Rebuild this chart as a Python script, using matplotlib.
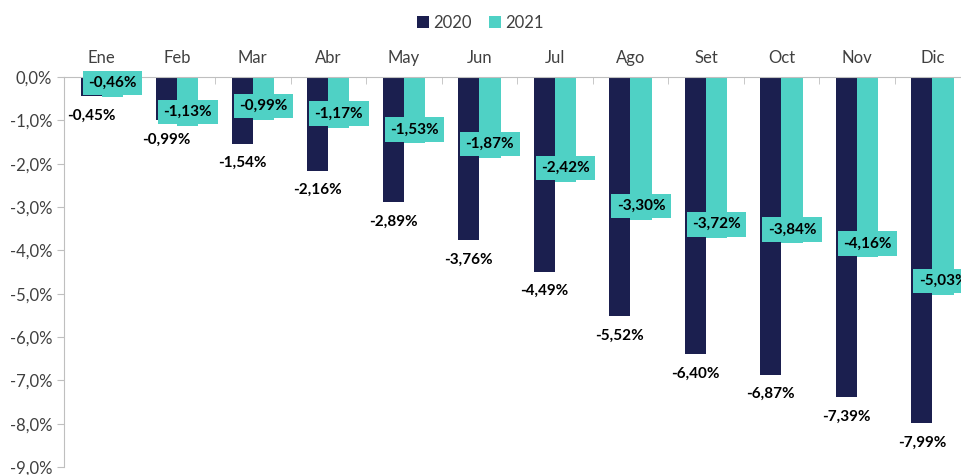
import numpy as np
import matplotlib
matplotlib.use("Agg")
import matplotlib.pyplot as plt
from matplotlib.ticker import FuncFormatter, MultipleLocator

plt.rcParams['font.family'] = ['Lato', 'DejaVu Sans']

# data
months = ["Ene", "Feb", "Mar", "Abr", "May", "Jun", "Jul", "Ago", "Set", "Oct", "Nov", "Dic"]
v2020 = [-0.45, -0.99, -1.54, -2.16, -2.89, -3.76, -4.49, -5.52, -6.40, -6.87, -7.39, -7.99]
v2021 = [-0.46, -1.13, -0.99, -1.17, -1.53, -1.87, -2.42, -3.30, -3.72, -3.84, -4.16, -5.03]

navy = "#1b1f4f"
teal = "#4fd1c5"
grey_txt = "#404040"
axis_col = "#bfbfbf"

def pct(v):
    return f"{v:.2f}%".replace(".", ",")

fig = plt.figure(figsize=(9.61, 4.75), dpi=100)
ax = fig.add_axes([0.0666, 0.0168, 0.943, 0.8212])

x = np.arange(len(months))
w = 0.28
b1 = ax.bar(x - w/2, v2020, w, color=navy, label="2020", zorder=2)
b2 = ax.bar(x + w/2, v2021, w, color=teal, label="2021", zorder=2)

# 2020 labels sit just under the bar end
for xi, v in zip(x, v2020):
    ax.annotate(pct(v), (xi - w/2, v), xytext=(0, -14), textcoords="offset points",
                ha="center", va="center", fontsize=11, fontweight="bold", color="black", zorder=4)

# 2021 labels inside the bar end, on a teal box
for xi, v in zip(x, v2021):
    ax.annotate(pct(v), (xi + w/2, v), xytext=(0, 10), textcoords="offset points",
                ha="center", va="center", fontsize=11, fontweight="bold", color="black", zorder=5,
                bbox=dict(boxstyle="square,pad=0.35", fc=teal, ec="none"))

ax.set_xlim(-0.5, len(months) - 0.5)
ax.set_ylim(-9, 0)

# category axis on top
ax.xaxis.tick_top()
ax.set_xticks(x)
ax.set_xticklabels(months, fontsize=12, color=grey_txt)
ax.set_xticks(np.arange(-0.5, len(months)), minor=True)
ax.tick_params(axis="x", which="major", length=0, pad=8)
ax.tick_params(axis="x", which="minor", direction="in", length=5, color=axis_col, top=True)

ax.yaxis.set_major_locator(MultipleLocator(1))
ax.yaxis.set_major_formatter(FuncFormatter(lambda v, p: f"{v:.1f}%".replace(".", ",")))
ax.tick_params(axis="y", labelsize=12, labelcolor=grey_txt, color=axis_col, length=5)

for s in ["right", "bottom"]:
    ax.spines[s].set_visible(False)
ax.spines["left"].set_color(axis_col)
ax.spines["top"].set_color(axis_col)

fig.legend(handles=[b1, b2], loc="upper center", bbox_to_anchor=(0.5, 1.0), ncol=2,
           frameon=False, fontsize=12, handlelength=0.7, handleheight=0.7,
           handletextpad=0.3, columnspacing=1.0, labelcolor=grey_txt)

fig.savefig("out.png", dpi=100)
